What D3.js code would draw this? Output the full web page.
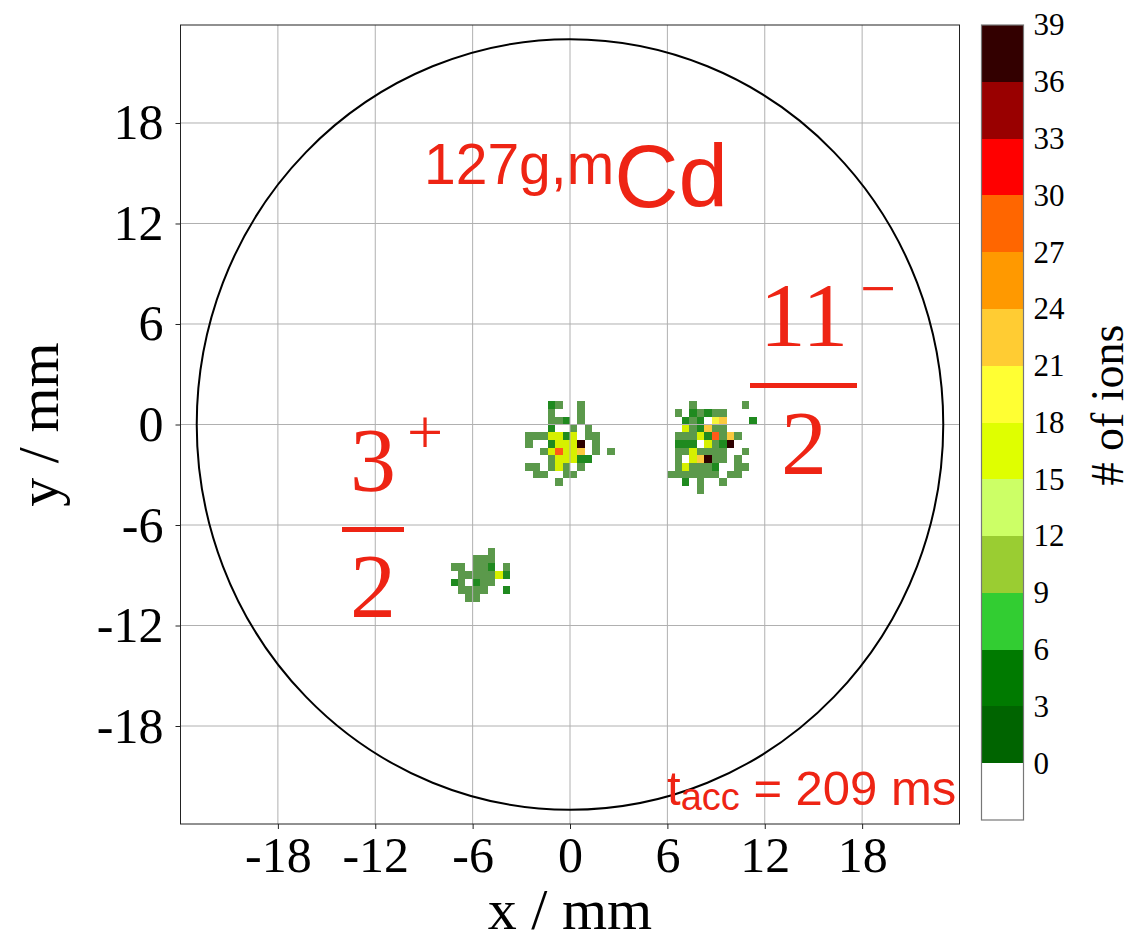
<!DOCTYPE html>
<html>
<head>
<meta charset="utf-8">
<script src="https://cdn.jsdelivr.net/npm/d3@7/dist/d3.min.js"></script>
<style>
  body { margin: 0; background: #fff; }
  text { font-family: "Liberation Serif", "Times New Roman", serif; }
</style>
</head>
<body>
<svg id="chart" width="1132" height="943"></svg>
<script>
// ---- data ----
const binSize = 0.46;                       // mm per histogram bin
const xTicks = [-18, -12, -6, 0, 6, 12, 18];
const yTicks = [-18, -12, -6, 0, 6, 12, 18];
const circleRadius = 23;                    // mm, MCP active area

const cbEdges = [-3, 0, 3, 6, 9, 12, 15, 18, 21, 24, 27, 30, 33, 36, 39];
const cbTicks = [0, 3, 6, 9, 12, 15, 18, 21, 24, 27, 30, 33, 36, 39];
const cbColors = ["#ffffff", "#006400", "#007a00", "#32cd32", "#9acd32", "#ccff66", "#dfff00",
                  "#ffff33", "#ffcc33", "#ff9900", "#ff6600", "#ff0000", "#990000", "#330000"];
// colours of the cells as they show in the map (drawn semi-transparent there)
const heatColors = ["#ffffff", "#5b994b", "#1f8a1f", "#3cc43c", "#a3cf45", "#d4f76e", "#d6f000",
                    "#f5f53a", "#fbc93e", "#ff9a1a", "#ff5a18", "#ff1a10", "#990000", "#2e0000"];

// ion counts per bin, row by row (top row first); origin = bin index of the top-left cell
const cluster1Origin = [-6, 2];
const cluster1Rows = [
  [0, 0, 0, 5, 2, 0, 0, 2, 0, 0, 0, 0],
  [0, 0, 0, 2, 0, 0, 0, 2, 0, 0, 0, 0],
  [0, 0, 0, 2, 2, 5, 0, 2, 0, 0, 0, 0],
  [0, 0, 0, 5, 0, 0, 2, 0, 2, 0, 0, 0],
  [2, 2, 2, 16, 16, 5, 16, 0, 2, 2, 0, 0],
  [2, 0, 0, 5, 16, 16, 16, 38, 0, 2, 0, 0],
  [0, 0, 2, 16, 28, 16, 16, 22, 0, 2, 0, 2],
  [0, 0, 0, 2, 16, 16, 16, 5, 5, 0, 0, 0],
  [2, 2, 0, 2, 16, 2, 0, 2, 0, 0, 0, 0],
  [0, 2, 2, 0, 0, 2, 2, 0, 0, 0, 0, 0],
  [0, 0, 0, 0, 2, 0, 0, 0, 0, 0, 0, 0]
];
const cluster2Origin = [13, 2];
const cluster2Rows = [
  [0, 0, 0, 2, 0, 0, 0, 0, 0, 0, 2, 0],
  [0, 2, 0, 5, 2, 5, 2, 2, 0, 0, 0, 0],
  [0, 0, 5, 2, 5, 0, 19, 22, 0, 0, 0, 5],
  [0, 0, 16, 2, 5, 22, 2, 2, 0, 0, 0, 0],
  [0, 2, 2, 2, 16, 5, 28, 2, 22, 2, 0, 0],
  [0, 5, 5, 5, 0, 16, 2, 5, 38, 0, 0, 0],
  [0, 2, 2, 16, 2, 2, 2, 2, 0, 0, 2, 0],
  [0, 2, 0, 16, 22, 38, 2, 2, 0, 2, 0, 0],
  [0, 2, 16, 2, 2, 2, 5, 0, 0, 2, 2, 0],
  [2, 2, 2, 2, 2, 2, 2, 0, 2, 2, 0, 0],
  [0, 0, 5, 0, 2, 0, 0, 2, 0, 0, 0, 0],
  [0, 0, 0, 0, 2, 0, 0, 0, 0, 0, 0, 0]
];
const cluster3Origin = [-16, -17];
const cluster3Rows = [
  [0, 0, 0, 0, 0, 2, 0, 0],
  [0, 0, 0, 2, 2, 2, 0, 0],
  [2, 2, 0, 2, 2, 5, 0, 2],
  [0, 2, 2, 2, 2, 2, 16, 5],
  [5, 2, 0, 5, 2, 2, 0, 0],
  [0, 2, 2, 2, 2, 0, 0, 5],
  [0, 0, 2, 2, 0, 0, 0, 0]
];

// ---- layout ----
const plot = { left: 180.5, right: 959.5, top: 25, bottom: 824 };
const cbar = { left: 981.5, right: 1023.5, top: 25, bottom: 820 };
const red = "#ee2414";

const svg = d3.select("#chart");

const x = d3.scaleLinear().domain([-24, 24]).range([plot.left, plot.right]);
const y = d3.scaleLinear().domain([-23.85, 23.85]).range([plot.bottom, plot.top]);
const heatColor = d3.scaleThreshold().domain(cbEdges.slice(1, -1)).range(heatColors);

svg.append("defs").append("clipPath").attr("id", "plotclip")
  .append("rect")
    .attr("x", plot.left).attr("y", plot.top)
    .attr("width", plot.right - plot.left).attr("height", plot.bottom - plot.top);

/**
 * Heat map cells.
 */
const toCells = (origin, rows) => rows.flatMap((row, r) =>
  row.map((v, k) => ({ i: origin[0] + k, j: origin[1] - r, v })));

const cells = [
  ...toCells(cluster1Origin, cluster1Rows),
  ...toCells(cluster2Origin, cluster2Rows),
  ...toCells(cluster3Origin, cluster3Rows)
].filter(d => d.v > 0);

svg.append("g")
    .attr("class", "cells")
    .attr("clip-path", "url(#plotclip)")
  .selectAll("rect")
  .data(cells)
  .enter().append("rect")
    .attr("x", d => x(d.i * binSize))
    .attr("y", d => y((d.j + 1) * binSize))
    .attr("width", d => x((d.i + 1) * binSize) - x(d.i * binSize))
    .attr("height", d => y(d.j * binSize) - y((d.j + 1) * binSize))
    .attr("fill", d => heatColor(d.v))
    .attr("shape-rendering", "crispEdges");

/**
 * Grid, circle, frame.
 */
const grid = svg.append("g").attr("class", "grid")
  .attr("stroke", "#b0b0b0").attr("stroke-width", 1);
grid.selectAll(".gx").data(xTicks).enter().append("line")
    .attr("x1", d => x(d)).attr("x2", d => x(d))
    .attr("y1", plot.top).attr("y2", plot.bottom);
grid.selectAll(".gy").data(yTicks).enter().append("line")
    .attr("y1", d => y(d)).attr("y2", d => y(d))
    .attr("x1", plot.left).attr("x2", plot.right);

svg.append("ellipse")
    .attr("cx", x(0)).attr("cy", y(0))
    .attr("rx", x(circleRadius) - x(0))
    .attr("ry", y(0) - y(circleRadius))
    .attr("fill", "none")
    .attr("stroke", "#000")
    .attr("stroke-width", 2);

svg.append("rect")
    .attr("x", plot.left).attr("y", plot.top)
    .attr("width", plot.right - plot.left).attr("height", plot.bottom - plot.top)
    .attr("fill", "none").attr("stroke", "#222").attr("stroke-width", 1);

/**
 * Axes.
 */
const plainFormat = d => String(d);   // hyphen minus, as in the original

const xAxis = svg.append("g")
    .attr("transform", `translate(0,${plot.bottom})`)
    .call(d3.axisBottom(x).tickValues(xTicks).tickFormat(plainFormat).tickSize(5).tickPadding(7));
const yAxis = svg.append("g")
    .attr("transform", `translate(${plot.left},0)`)
    .call(d3.axisLeft(y).tickValues(yTicks).tickFormat(plainFormat).tickSize(5).tickPadding(12));

[xAxis, yAxis].forEach(ax => {
  ax.select(".domain").remove();
  ax.selectAll(".tick line").attr("stroke", "#222");
  ax.selectAll(".tick text")
    .attr("fill", "#000")
    .style("font-family", "'Liberation Serif', serif")
    .style("font-size", "50px");
});

svg.append("text")
    .attr("x", x(0)).attr("y", 929)
    .attr("text-anchor", "middle")
    .style("font-size", "58px")
    .text("x / mm");

svg.append("text")
    .attr("transform", `translate(58,${y(0)}) rotate(-90)`)
    .attr("text-anchor", "middle")
    .style("font-size", "58px")
    .text("y / mm");

/**
 * Colour bar.
 */
const cbY = d3.scaleLinear().domain([cbEdges[0], cbEdges[cbEdges.length - 1]])
  .range([cbar.bottom, cbar.top]);

svg.append("g").attr("class", "colorbar")
  .selectAll("rect")
  .data(d3.pairs(cbEdges))
  .enter().append("rect")
    .attr("x", cbar.left)
    .attr("y", d => cbY(d[1]))
    .attr("width", cbar.right - cbar.left)
    .attr("height", d => cbY(d[0]) - cbY(d[1]))
    .attr("fill", (d, i) => cbColors[i])
    .attr("shape-rendering", "crispEdges");

svg.append("rect")
    .attr("x", cbar.left).attr("y", cbar.top)
    .attr("width", cbar.right - cbar.left).attr("height", cbar.bottom - cbar.top)
    .attr("fill", "none").attr("stroke", "#777").attr("stroke-width", 1.2);

const cbAxis = svg.append("g")
    .attr("transform", `translate(${cbar.right},0)`)
    .call(d3.axisRight(cbY).tickValues(cbTicks).tickSize(0).tickPadding(10));
cbAxis.select(".domain").remove();
cbAxis.selectAll(".tick text")
    .attr("fill", "#000")
    .style("font-family", "'Liberation Serif', serif")
    .style("font-size", "31px");

svg.append("text")
    .attr("transform", `translate(1123,405) rotate(-90)`)
    .attr("text-anchor", "middle")
    .style("font-size", "46px")
    .text("# of ions");

/**
 * Annotations.
 */
const sans = "'Liberation Sans', Arial, sans-serif";

const nuclide = svg.append("text")
    .attr("x", 424).attr("y", 184)
    .attr("fill", red)
    .style("font-family", sans);
nuclide.append("tspan").style("font-size", "57px").text("127g,m");
nuclide.append("tspan").attr("dy", 23).style("font-size", "89px").text("Cd");

const tacc = svg.append("text")
    .attr("x", 667).attr("y", 805)
    .attr("fill", red)
    .style("font-family", sans);
tacc.append("tspan").style("font-size", "49px").text("t");
tacc.append("tspan").attr("dy", 5).style("font-size", "38px").text("acc");
tacc.append("tspan").attr("dy", -5).style("font-size", "49px").text(" = 209 ms");

const fraction = (num, sign, cx, numBase, signX, signBase, barX0, barX1, barY, denBase) => {
  const g = svg.append("g").attr("fill", red);
  g.append("text").attr("x", cx).attr("y", numBase).attr("text-anchor", "middle")
    .style("font-size", "92px").text(num);
  g.append("text").attr("x", signX).attr("y", signBase).attr("text-anchor", "middle")
    .style("font-size", "64px").text(sign);
  g.append("line").attr("x1", barX0).attr("x2", barX1).attr("y1", barY).attr("y2", barY)
    .attr("stroke", red).attr("stroke-width", 5);
  g.append("text").attr("x", cx).attr("y", denBase).attr("text-anchor", "middle")
    .style("font-size", "92px").text("2");
};
fraction("3", "+", 373, 491, 425, 454, 342, 404, 529.5, 617);
fraction("11", "\u2212", 804, 346, 878, 310, 750, 857, 385.5, 474);
</script>
</body>
</html>
